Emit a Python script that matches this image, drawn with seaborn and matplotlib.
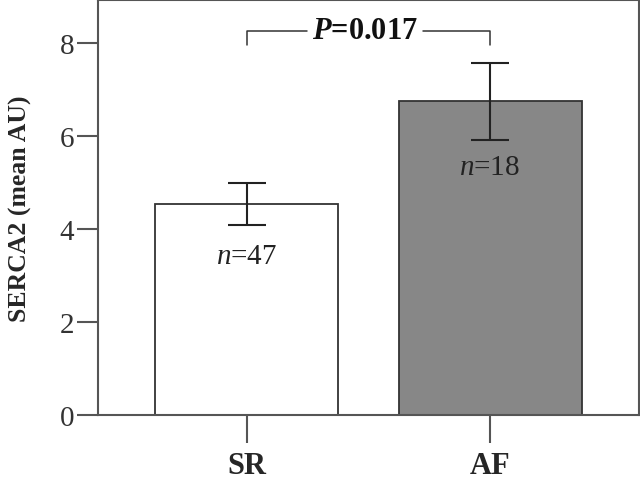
#import libraries
import pandas as pd
import numpy as np
import seaborn as sns
import matplotlib.pyplot as plt

#data
groups = ["SR", "AF"]
means = [4.54, 6.75]
err_low = [4.09, 5.91]
err_high = [4.99, 7.57]
n_labels = ["47", "18"]
bar_colors = ["#ffffff", "#878787"]
p_text = "0.017"

df = pd.DataFrame({"group": groups, "mean": means})

sns.set_style("ticks")
plt.rcParams["font.family"] = ["Liberation Serif", "DejaVu Serif"]
plt.rcParams["mathtext.fontset"] = "custom"
plt.rcParams["mathtext.rm"] = "Liberation Serif"
plt.rcParams["mathtext.it"] = "Liberation Serif:italic"
plt.rcParams["mathtext.bf"] = "Liberation Serif:bold"
plt.rcParams["mathtext.bfit"] = "Liberation Serif:bold:italic"

fig, ax = plt.subplots(figsize=(6.4, 4.81), dpi=100)
fig.subplots_adjust(left=98/640, right=639/640, top=1-1/481, bottom=1-416/481)

sns.barplot(data=df, x="group", y="mean", hue="group", palette=bar_colors,
            edgecolor="#333333", linewidth=1.3, width=0.753, errorbar=None,
            legend=False, ax=ax)

#error bars
x = np.arange(len(groups))
yerr = [np.array(means) - np.array(err_low), np.array(err_high) - np.array(means)]
ax.errorbar(x, means, yerr=yerr, fmt="none", ecolor="#222222", elinewidth=1.5,
            capsize=14, capthick=1.5)

#n labels below bars
n_y = [3.42, 5.33]
for i in range(len(groups)):
    ax.text(x[i], n_y[i], r"$\mathit{n}$=" + n_labels[i], ha="center", va="center",
            fontsize=21, color="#222222")

#significance bracket
by = 8.26
ax.plot([x[0], x[0], 0.245], [7.95, by, by], color="#333333", lw=1.1)
ax.plot([0.725, x[1], x[1]], [by, by, 7.95], color="#333333", lw=1.1)
ax.text(0.486, by, r"$\mathbfit{P}$=" + p_text, ha="center", va="center",
        fontsize=22, fontweight="bold", color="#111111")

ax.set_xlim(-0.613, 1.613)
ax.set_ylim(0, 8.92)
ax.set_yticks([0, 2, 4, 6, 8])
ax.set_xlabel("")
ax.set_ylabel("SERCA2 (mean AU)", fontsize=18.5, fontweight="bold", labelpad=20)

for s in ax.spines.values():
    s.set_color("#555555")
    s.set_linewidth(1.5)
ax.tick_params(axis="y", length=15, width=1.5, color="#555555", labelsize=21,
               labelcolor="#333333", pad=2)
ax.tick_params(axis="x", length=20, width=1.5, color="#555555", labelsize=22,
               pad=6)
for lab in ax.get_xticklabels():
    lab.set_fontweight("bold")

plt.savefig("out.png", dpi=100)
